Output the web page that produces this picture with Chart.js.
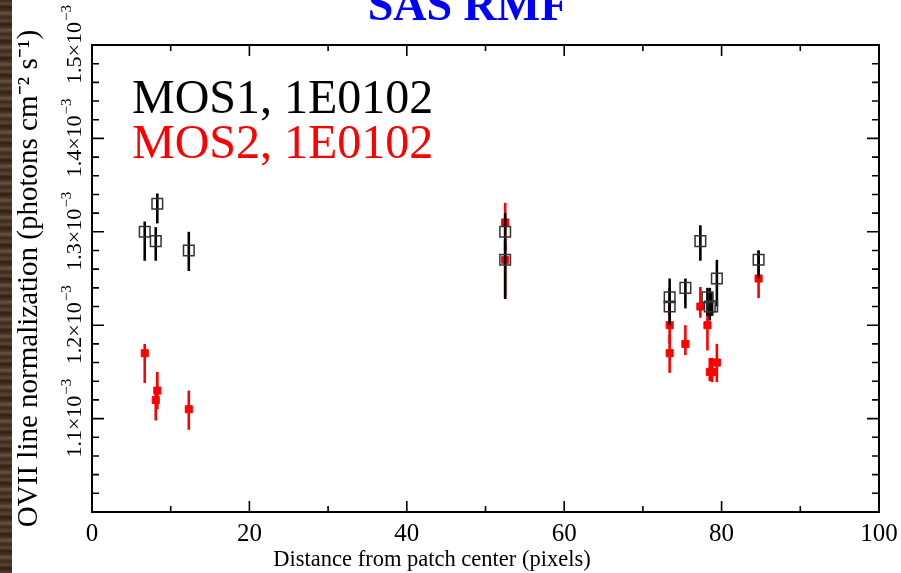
<!DOCTYPE html>
<html>
<head>
<meta charset="utf-8">
<script src="https://cdn.jsdelivr.net/npm/chart.js@4/dist/chart.umd.min.js"></script>
<style>
html, body { margin: 0; padding: 0; background: #fff; }
#wrap { position: relative; width: 901px; height: 573px; }
#wood {
    position: absolute; left: 0; top: 0; width: 12px; height: 573px;
    background: repeating-linear-gradient(180deg, #3b2b1d 0px, #5b4532 4px, #2c2015 7px, #4b3725 11px, #6a5340 13px, #3b2b1d 17px);
}
canvas { position: absolute; left: 0; top: 0; }
</style>
</head>
<body>
<div id="wrap">
    <div id="wood"></div>
    <canvas id="chart" width="901" height="573"></canvas>
</div>
<script>
// distance from patch center (pixels), shared by both cameras
const distance = [6.7, 8.1, 8.3, 12.3, 52.5, 52.5, 73.4, 73.4, 75.4, 77.3, 78.2, 78.5, 78.8, 79.4, 84.7];

// MOS1 OVII normalization with lower / upper error
const mos1Norm = [1.30e-3, 1.29e-3, 1.33e-3, 1.28e-3, 1.30e-3, 1.27e-3, 1.23e-3, 1.22e-3, 1.24e-3, 1.29e-3, 1.23e-3, 1.22e-3, 1.22e-3, 1.25e-3, 1.27e-3];
const mos1Lo = [1.269e-3, 1.269e-3, 1.309e-3, 1.258e-3, 1.28e-3, 1.228e-3, 1.21e-3, 1.20e-3, 1.218e-3, 1.269e-3, 1.21e-3, 1.205e-3, 1.21e-3, 1.22e-3, 1.25e-3];
const mos1Hi = [1.311e-3, 1.305e-3, 1.341e-3, 1.30e-3, 1.32e-3, 1.29e-3, 1.25e-3, 1.24e-3, 1.25e-3, 1.307e-3, 1.24e-3, 1.24e-3, 1.235e-3, 1.27e-3, 1.28e-3];

// MOS2 OVII normalization with lower / upper error
const mos2Norm = [1.17e-3, 1.12e-3, 1.13e-3, 1.11e-3, 1.31e-3, 1.27e-3, 1.20e-3, 1.17e-3, 1.18e-3, 1.22e-3, 1.20e-3, 1.15e-3, 1.15e-3, 1.16e-3, 1.25e-3];
const mos2Lo = [1.138e-3, 1.098e-3, 1.11e-3, 1.088e-3, 1.29e-3, 1.229e-3, 1.18e-3, 1.149e-3, 1.168e-3, 1.208e-3, 1.173e-3, 1.14e-3, 1.139e-3, 1.139e-3, 1.229e-3];
const mos2Hi = [1.18e-3, 1.13e-3, 1.15e-3, 1.13e-3, 1.331e-3, 1.29e-3, 1.222e-3, 1.19e-3, 1.20e-3, 1.241e-3, 1.222e-3, 1.165e-3, 1.165e-3, 1.18e-3, 1.28e-3];

const xMajorTicks = [0, 20, 40, 60, 80, 100];
const xMinorTicks = [10, 30, 50, 70, 90];
const yMajorTicks = [1.1e-3, 1.2e-3, 1.3e-3, 1.4e-3, 1.5e-3];
const yTickLabels = ['1.1×10', '1.2×10', '1.3×10', '1.4×10', '1.5×10'];
const yMinorTicks = [1.02e-3, 1.04e-3, 1.06e-3, 1.08e-3, 1.12e-3, 1.14e-3, 1.16e-3, 1.18e-3,
    1.22e-3, 1.24e-3, 1.26e-3, 1.28e-3, 1.32e-3, 1.34e-3, 1.36e-3, 1.38e-3,
    1.42e-3, 1.44e-3, 1.46e-3, 1.48e-3];

const serif = '"Liberation Serif", "Times New Roman", serif';
const errLo = [mos1Lo, mos2Lo];
const errHi = [mos1Hi, mos2Hi];
const barColors = ['#000000', '#ff0000'];

function points(ys) {
    return distance.map((d, i) => ({ x: d, y: ys[i] }));
}

// error bars drawn under each dataset's markers
const errorBars = {
    id: 'errorBars',
    beforeDatasetDraw(chart, args) {
        const i = args.index;
        const xs = chart.scales.x, ys = chart.scales.y;
        const ctx = chart.ctx;
        ctx.save();
        ctx.strokeStyle = barColors[i];
        ctx.lineWidth = 2.6;
        distance.forEach((d, k) => {
            const px = xs.getPixelForValue(d);
            ctx.beginPath();
            ctx.moveTo(px, ys.getPixelForValue(errLo[i][k]));
            ctx.lineTo(px, ys.getPixelForValue(errHi[i][k]));
            ctx.stroke();
        });
        ctx.restore();
    }
};

// frame, inward ticks on all sides, y labels, titles and legend text
const decorations = {
    id: 'decorations',
    afterDraw(chart) {
        const ctx = chart.ctx;
        const a = chart.chartArea;
        const xs = chart.scales.x, ys = chart.scales.y;
        ctx.save();
        ctx.strokeStyle = '#000';
        ctx.lineWidth = 2;
        ctx.strokeRect(a.left, a.top, a.right - a.left, a.bottom - a.top);

        ctx.lineWidth = 1.6;
        ctx.beginPath();
        const xTick = (v, len) => {
            const px = xs.getPixelForValue(v);
            ctx.moveTo(px, a.bottom); ctx.lineTo(px, a.bottom - len);
            ctx.moveTo(px, a.top); ctx.lineTo(px, a.top + len);
        };
        const yTick = (v, len) => {
            const py = ys.getPixelForValue(v);
            ctx.moveTo(a.left, py); ctx.lineTo(a.left + len, py);
            ctx.moveTo(a.right, py); ctx.lineTo(a.right - len, py);
        };
        xMajorTicks.forEach(v => xTick(v, 11));
        xMinorTicks.forEach(v => xTick(v, 6));
        yMajorTicks.forEach(v => yTick(v, 12));
        yMinorTicks.forEach(v => yTick(v, 7));
        ctx.stroke();

        // rotated y tick labels with superscript exponent
        ctx.fillStyle = '#000';
        ctx.textBaseline = 'alphabetic';
        yMajorTicks.forEach((v, k) => {
            const py = ys.getPixelForValue(v);
            ctx.save();
            ctx.translate(81, py);
            ctx.rotate(-Math.PI / 2);
            ctx.font = '22px ' + serif;
            const main = yTickLabels[k];
            const w1 = ctx.measureText(main).width;
            ctx.font = '15px ' + serif;
            const w2 = ctx.measureText('−3').width;
            const start = -(w1 + w2) / 2;
            ctx.font = '22px ' + serif;
            ctx.textAlign = 'left';
            ctx.fillText(main, start, 0);
            ctx.font = '15px ' + serif;
            ctx.fillText('−3', start + w1 + 1, -10);
            ctx.restore();
        });

        // x axis title, offset left of the plot centre as in the source
        ctx.font = '22.5px ' + serif;
        ctx.textAlign = 'center';
        ctx.fillText('Distance from patch center (pixels)', 432, 566);

        // title, clipped by the top edge like the source image
        ctx.fillStyle = '#0000ff';
        ctx.font = 'bold 46px ' + serif;
        ctx.fillText('SAS RMF', 468, 20);

        // legend text
        ctx.textAlign = 'left';
        ctx.font = '48px ' + serif;
        ctx.fillStyle = '#000';
        ctx.fillText('MOS1, 1E0102', 132, 113);
        ctx.fillStyle = '#ff0000';
        ctx.fillText('MOS2, 1E0102', 132, 158);
        ctx.restore();
    }
};

new Chart(document.getElementById('chart'), {
    type: 'scatter',
    data: {
        datasets: [{
            label: 'MOS1, 1E0102',
            data: points(mos1Norm),
            pointStyle: 'rect',
            pointRadius: 7.5,
            pointHoverRadius: 7.5,
            backgroundColor: 'rgba(0,0,0,0)',
            borderColor: '#333333',
            borderWidth: 1.5
        }, {
            label: 'MOS2, 1E0102',
            data: points(mos2Norm),
            pointStyle: 'rect',
            pointRadius: 5,
            pointHoverRadius: 5,
            backgroundColor: '#ff0000',
            borderColor: '#ff0000',
            borderWidth: 1
        }]
    },
    options: {
        responsive: false,
        animation: false,
        events: [],
        layout: { padding: { left: 12, top: 45, right: 22, bottom: 0 } },
        plugins: {
            legend: { display: false },
            tooltip: { enabled: false }
        },
        scales: {
            x: {
                type: 'linear',
                min: 0,
                max: 100,
                grid: { display: false, drawTicks: false },
                border: { display: false },
                ticks: {
                    stepSize: 20,
                    padding: 7,
                    color: '#000',
                    font: { family: serif, size: 25 }
                },
                afterFit(scale) {
                    scale.height = 61;
                    scale.paddingLeft = 0;
                    scale.paddingRight = 0;
                }
            },
            y: {
                type: 'linear',
                min: 1.0e-3,
                max: 1.5e-3,
                grid: { display: false, drawTicks: false },
                border: { display: false },
                ticks: { display: false },
                title: {
                    display: true,
                    text: 'OVII line normalization (photons cm⁻² s⁻¹)',
                    color: '#000',
                    font: { family: serif, size: 29 },
                    padding: { top: 0, bottom: 0 }
                },
                afterFit(scale) { scale.width = 80; }
            }
        }
    },
    plugins: [errorBars, decorations]
});
</script>
</body>
</html>
